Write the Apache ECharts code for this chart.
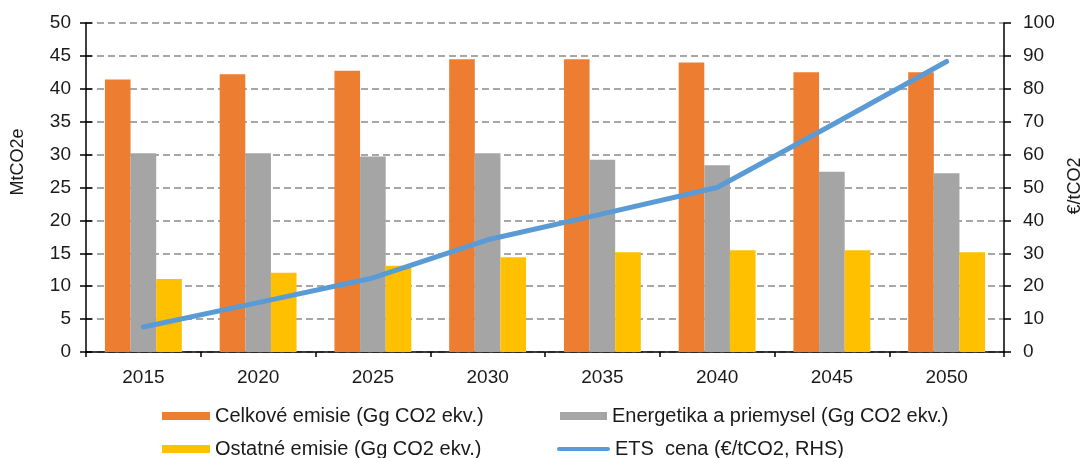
<!DOCTYPE html>
<html>
<head>
<meta charset="utf-8">
<script src="https://cdn.jsdelivr.net/npm/echarts@6/dist/echarts.min.js"></script>
<style>
  html, body { margin: 0; padding: 0; background: #fff; }
  #chart { width: 1091px; height: 458px; }
</style>
</head>
<body>
<div id="chart"></div>
<script>
// Emission scenarios by year with the ETS price on the right-hand axis
const years = ['2015', '2020', '2025', '2030', '2035', '2040', '2045', '2050'];
const celkove = [41.4, 42.2, 42.75, 44.5, 44.5, 44.0, 42.5, 42.5];
const energetika = [30.2, 30.2, 29.7, 30.2, 29.2, 28.4, 27.4, 27.15];
const ostatne = [11.1, 12.05, 13.1, 14.4, 15.15, 15.45, 15.45, 15.15];
const etsCena = [7.6, 15.0, 22.5, 34.1, 42.0, 50.0, 69.0, 88.3];

const seriesNames = [
  'Celkové emisie (Gg CO2 ekv.)',
  'Energetika a priemysel (Gg CO2 ekv.)',
  'Ostatné emisie (Gg CO2 ekv.)',
  'ETS  cena (€/tCO2, RHS)'
];
const leftAxisName = 'MtCO2e';
const rightAxisName = '€/tCO2';

const FONT = "'Liberation Sans', Arial, sans-serif";
const TXT = '#1a1a1a';
const BLUE = '#5B9BD5';

const chart = echarts.init(document.getElementById('chart'), null, { renderer: 'canvas' });

function legendAt(name, left, top, extra) {
  return Object.assign({
    data: [name],
    left: left,
    top: top,
    orient: 'horizontal',
    icon: 'rect',
    itemWidth: 48,
    itemHeight: 8,
    itemGap: 0,
    padding: 0,
    selectedMode: false,
    textStyle: { fontFamily: FONT, fontSize: 20, color: TXT, padding: [0, 0, 0, 0] }
  }, extra || {});
}

const option = {
  animation: false,
  backgroundColor: '#ffffff',
  grid: { left: 86, right: 87, top: 23, bottom: 106, containLabel: false },
  legend: [
    legendAt(seriesNames[0], 162, 406),
    legendAt(seriesNames[1], 560, 406, { itemWidth: 47 }),
    legendAt(seriesNames[2], 162, 439),
    legendAt(seriesNames[3], 557, 439, {
      icon: 'path://M2,0 L51,0 A2,2 0 0 1 51,4 L2,4 A2,2 0 0 1 2,0 Z',
      itemWidth: 53, itemHeight: 4,
      itemStyle: { color: BLUE, borderWidth: 0 },
      lineStyle: { width: 0 }
    })
  ],
  xAxis: {
    type: 'category',
    data: years,
    boundaryGap: true,
    axisLine: { lineStyle: { color: '#000', width: 1.5 } },
    axisTick: { show: true, length: 5, lineStyle: { color: '#000', width: 1.5 } },
    axisLabel: { fontFamily: FONT, fontSize: 19, color: TXT, margin: 16 },
    splitLine: { show: false }
  },
  yAxis: [
    {
      type: 'value', position: 'left', min: 0, max: 50, interval: 5,
      axisLine: { show: true, lineStyle: { color: '#000', width: 1.5 } },
      axisTick: { show: true, length: 6, lineStyle: { color: '#000', width: 1.5 } },
      axisLabel: { fontFamily: FONT, fontSize: 19, color: TXT, margin: 15 },
      splitLine: { show: true, lineStyle: { color: '#8a8a8a', width: 1.5, type: [7, 4] } }
    },
    {
      type: 'value', position: 'right', min: 0, max: 100, interval: 10,
      axisLine: { show: true, lineStyle: { color: '#000', width: 1.5 } },
      axisTick: { show: true, length: 7, lineStyle: { color: '#000', width: 1.5 } },
      axisLabel: { fontFamily: FONT, fontSize: 19, color: TXT, margin: 19 },
      splitLine: { show: false }
    },
    {
      // inner half of the crossing ticks on the left axis
      type: 'value', position: 'left', min: 0, max: 50, interval: 5,
      axisLine: { show: false },
      axisTick: { show: true, inside: true, length: 6, lineStyle: { color: '#000', width: 1.5 } },
      axisLabel: { show: false },
      splitLine: { show: false }
    }
  ],
  series: [
    {
      name: seriesNames[0], type: 'bar', data: celkove, yAxisIndex: 0,
      barGap: '0%', barCategoryGap: '33%',
      itemStyle: { color: '#ED7D31' }
    },
    {
      name: seriesNames[1], type: 'bar', data: energetika, yAxisIndex: 0,
      barGap: '0%', barCategoryGap: '33%',
      itemStyle: { color: '#A5A5A5' }
    },
    {
      name: seriesNames[2], type: 'bar', data: ostatne, yAxisIndex: 0,
      barGap: '0%', barCategoryGap: '33%',
      itemStyle: { color: '#FFC000' }
    },
    {
      name: seriesNames[3], type: 'line', data: etsCena, yAxisIndex: 1,
      symbol: 'none', showSymbol: false, z: 5,
      lineStyle: { color: BLUE, width: 5, cap: 'round', join: 'round' },
      itemStyle: { color: BLUE }
    }
  ],
  graphic: [
    {
      type: 'text', x: 18, y: 162, rotation: Math.PI / 2,
      style: { text: leftAxisName, fontFamily: FONT, fontSize: 18, fill: TXT, align: 'center', verticalAlign: 'middle' }
    },
    {
      type: 'text', x: 1075, y: 186, rotation: Math.PI / 2,
      style: { text: rightAxisName, fontFamily: FONT, fontSize: 18, fill: TXT, align: 'center', verticalAlign: 'middle' }
    }
  ]
};

chart.setOption(option);
</script>
</body>
</html>
